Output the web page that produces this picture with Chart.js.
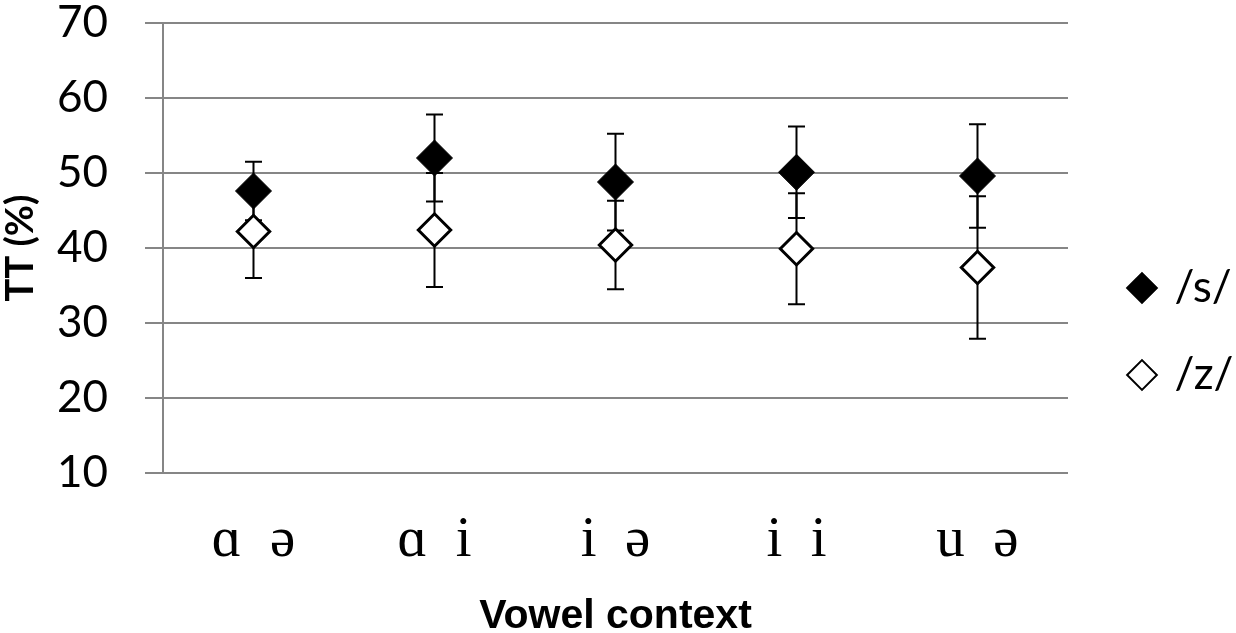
<!DOCTYPE html>
<html><head><meta charset="utf-8">
<script src="https://cdn.jsdelivr.net/npm/chart.js@4"></script>
<style>html,body{margin:0;padding:0;background:#fff}#wrap{width:1236px;height:633px;position:relative}</style>
</head><body><div id="wrap"><canvas id="c"></canvas></div>
<script>
const categories = ['ɑ  ə', 'ɑ  i', 'i  ə', 'i  i', 'u  ə'];
const seriesNames = ['/s/', '/z/'];
const sValues = [47.6, 52.0, 48.8, 50.1, 49.6];
const sErrors = [3.9, 5.8, 6.45, 6.1, 6.9];
const zValues = [42.2, 42.4, 40.4, 39.9, 37.4];
const zErrors = [6.2, 7.6, 5.9, 7.4, 9.5];
const yTicks = [10, 20, 30, 40, 50, 60, 70];
const errorsBySeries = [sErrors, zErrors];

const GRID = '#868686';

const errorBars = {
  id: 'errorBars',
  beforeDatasetsDraw(chart) {
    const ctx = chart.ctx;
    const y = chart.scales.y;
    chart.data.datasets.forEach((ds, di) => {
      const meta = chart.getDatasetMeta(di);
      const errs = errorsBySeries[di];
      meta.data.forEach((pt, i) => {
        const v = ds.data[i], e = errs[i];
        const yt = y.getPixelForValue(v + e), yb = y.getPixelForValue(v - e);
        const cw = 8.5;
        ctx.save();
        ctx.strokeStyle = '#000';
        ctx.lineWidth = 2;
        ctx.beginPath();
        ctx.moveTo(pt.x, yt); ctx.lineTo(pt.x, yb);
        ctx.moveTo(pt.x - cw, yt); ctx.lineTo(pt.x + cw, yt);
        ctx.moveTo(pt.x - cw, yb); ctx.lineTo(pt.x + cw, yb);
        ctx.stroke();
        ctx.restore();
      });
    });
  }
};

new Chart(document.getElementById('c'), {
  type: 'line',
  data: {
    labels: categories,
    datasets: [
      { label: seriesNames[0], data: sValues, showLine: false, pointStyle: 'rectRot',
        pointRadius: 18, pointHoverRadius: 18, backgroundColor: '#000', borderColor: '#000', borderWidth: 1 },
      { label: seriesNames[1], data: zValues, showLine: false, pointStyle: 'rectRot',
        pointRadius: 16.2, pointHoverRadius: 16.2, backgroundColor: '#fff', borderColor: '#000', borderWidth: 3 }
    ]
  },
  options: {
    responsive: true,
    maintainAspectRatio: false,
    animation: false,
    layout: { autoPadding: false, padding: { top: 23, left: 0, right: -7.5, bottom: 0 } },
    plugins: {
      tooltip: { enabled: false },
      legend: {
        position: 'right',
        align: 'start',
        title: { display: true, text: ' ', font: { size: 10, lineHeight: 1 }, padding: { top: 84.75, bottom: 84.75 } },
        labels: {
          usePointStyle: true,
          boxWidth: 21,
          boxHeight: 21,
          padding: 63.5,
          color: '#000',
          font: { family: 'Lato', size: 44, lineHeight: 0.534 },
          generateLabels(chart) {
            const items = Chart.defaults.plugins.legend.labels.generateLabels(chart);
            items.forEach(it => { it.text = [it.text]; it.lineWidth = 2; });
            return items;
          }
        }
      }
    },
    scales: {
      x: {
        offset: true,
        afterFit(scale) { scale.height = 160; },
        grid: { display: false, drawTicks: false },
        border: { display: false },
        ticks: { color: '#000', font: { family: "'Liberation Serif', 'DejaVu Serif', serif", size: 57 }, padding: 34, maxRotation: 0 },
        title: { display: true, text: 'Vowel context', color: '#000',
          font: { family: "'Liberation Sans', Arial, sans-serif", weight: 'bold', size: 41, lineHeight: 1 },
          padding: { top: 0, bottom: -4 } }
      },
      y: {
        min: 10, max: 70,
        afterFit(scale) { scale.width = 163; scale.paddingTop = 23; scale.paddingBottom = 23; },
        afterBuildTicks(scale) { scale.ticks = yTicks.map(v => ({ value: v })); },
        ticks: { color: '#000', font: { family: 'Lato', size: 44, lineHeight: 1.1 }, padding: 37 },
        grid: { color: GRID, lineWidth: 2, tickLength: 18, drawTicks: true },
        border: { display: true, color: GRID, width: 2 },
        title: { display: true, text: 'TT (%)', color: '#000',
          font: { family: 'Lato', weight: 'bold', size: 38, lineHeight: 1 },
          padding: { top: 2, bottom: 0 } }
      }
    }
  },
  plugins: [errorBars]
});
</script>
</body></html>
